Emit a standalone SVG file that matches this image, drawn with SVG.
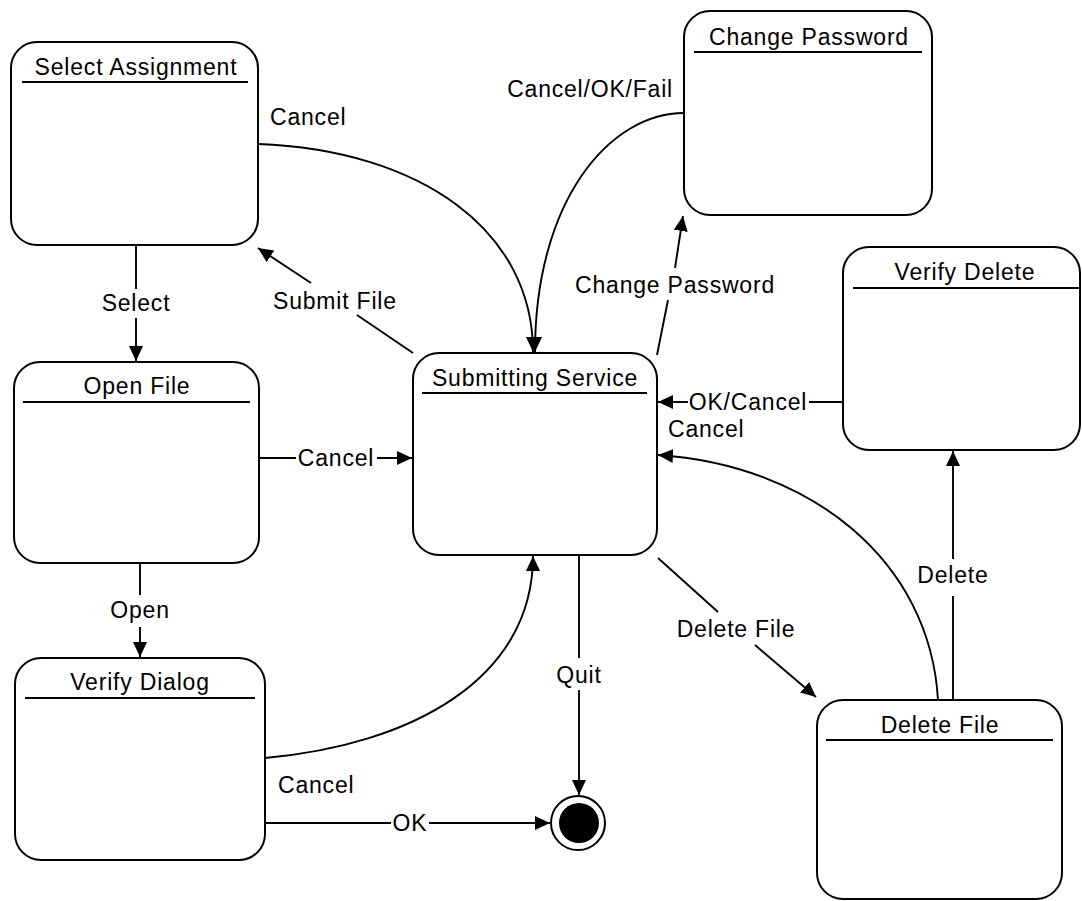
<svg xmlns="http://www.w3.org/2000/svg" width="1082" height="901" viewBox="0 0 1082 901">
  <style>
    .state { fill: #ffffff; stroke: #000000; stroke-width: 2; }
    .divider { stroke: #000000; stroke-width: 2; }
    .title { font-family: "Liberation Sans", Arial, sans-serif; font-size: 23px; letter-spacing: 0.8px; fill: #000000; text-anchor: middle; }
    .edge { fill: none; stroke: #000000; stroke-width: 1.9; }
    .arrow { marker-end: url(#head); }
    .label { font-family: "Liberation Sans", Arial, sans-serif; font-size: 23px; letter-spacing: 0.8px; fill: #000000; }
  </style>
  <defs>
    <marker id="head" markerUnits="userSpaceOnUse" markerWidth="16" markerHeight="15" refX="15" refY="7" orient="auto">
      <path d="M0,0 L15,7 L0,14 Z" fill="#000000"/>
    </marker>
  </defs>

  <rect width="1082" height="901" fill="#ffffff"/>

  <!-- transitions; straight lines are split where their label sits on them -->
  <g id="connectors">
    <!-- Select Assignment -> Open File -->
    <line class="edge" x1="136" y1="245" x2="136" y2="289"/>
    <line class="edge arrow" x1="136" y1="318" x2="136" y2="361"/>
    <text class="label" x="136" y="311" text-anchor="middle">Select</text>

    <!-- Open File -> Verify Dialog -->
    <line class="edge" x1="140" y1="563" x2="140" y2="595"/>
    <line class="edge arrow" x1="140" y1="627" x2="140" y2="657"/>
    <text class="label" x="140" y="618" text-anchor="middle">Open</text>

    <!-- Open File -> Submitting Service -->
    <line class="edge" x1="259" y1="458" x2="296" y2="458"/>
    <line class="edge arrow" x1="377" y1="458" x2="412" y2="458"/>
    <text class="label" x="336" y="466" text-anchor="middle">Cancel</text>

    <!-- Select Assignment -> Submitting Service -->
    <path class="edge arrow" d="M258,144 C420,150 533,230 533,352"/>
    <text class="label" x="270" y="125">Cancel</text>

    <!-- Submitting Service -> Select Assignment -->
    <line class="edge" x1="413" y1="353" x2="357" y2="315"/>
    <line class="edge arrow" x1="311" y1="283" x2="258" y2="248"/>
    <text class="label" x="273" y="309">Submit File</text>

    <!-- Change Password -> Submitting Service -->
    <path class="edge arrow" d="M684,113 C610,113 535,200 535,352"/>
    <text class="label" x="673" y="97" text-anchor="end">Cancel/OK/Fail</text>

    <!-- Submitting Service -> Change Password -->
    <line class="edge" x1="657" y1="355" x2="668" y2="300"/>
    <line class="edge arrow" x1="675" y1="268" x2="683" y2="216"/>
    <text class="label" x="775" y="293" text-anchor="end">Change Password</text>

    <!-- Verify Delete -> Submitting Service -->
    <line class="edge" x1="843" y1="402" x2="809" y2="402"/>
    <line class="edge arrow" x1="688" y1="402" x2="658" y2="402"/>
    <text class="label" x="748" y="410" text-anchor="middle">OK/Cancel</text>

    <!-- Delete File -> Submitting Service -->
    <path class="edge arrow" d="M938,700 C930,560 810,465 658,455"/>
    <text class="label" x="668" y="437">Cancel</text>

    <!-- Delete File -> Verify Delete -->
    <line class="edge" x1="953" y1="700" x2="953" y2="596"/>
    <line class="edge arrow" x1="953" y1="559" x2="953" y2="451"/>
    <text class="label" x="953" y="583" text-anchor="middle">Delete</text>

    <!-- Submitting Service -> Delete File -->
    <line class="edge" x1="658" y1="558" x2="718" y2="612"/>
    <line class="edge arrow" x1="755" y1="645" x2="816" y2="697"/>
    <text class="label" x="736" y="637" text-anchor="middle">Delete File</text>

    <!-- Submitting Service -> final state -->
    <line class="edge" x1="579" y1="555" x2="579" y2="658"/>
    <line class="edge arrow" x1="579" y1="690" x2="579" y2="795"/>
    <text class="label" x="579" y="683" text-anchor="middle">Quit</text>

    <!-- Verify Dialog -> Submitting Service -->
    <path class="edge arrow" d="M265,758 C410,745 533,680 533,556"/>
    <text class="label" x="278" y="793">Cancel</text>

    <!-- Verify Dialog -> final state -->
    <line class="edge" x1="265" y1="823" x2="391" y2="823"/>
    <line class="edge arrow" x1="429" y1="823" x2="550" y2="823"/>
    <text class="label" x="410" y="831" text-anchor="middle">OK</text>
  </g>

  <!-- states -->
  <g id="select-assignment">
    <rect class="state" x="11" y="42" width="247" height="203" rx="26" ry="26"/>
    <line class="divider" x1="22" y1="82" x2="248" y2="82"/>
    <text class="title" x="136" y="75">Select Assignment</text>
  </g>

  <g id="change-password">
    <rect class="state" x="684" y="11" width="248" height="204" rx="26" ry="26"/>
    <line class="divider" x1="694" y1="52" x2="922" y2="52"/>
    <text class="title" x="809" y="45">Change Password</text>
  </g>

  <g id="open-file">
    <rect class="state" x="14" y="362" width="245" height="201" rx="26" ry="26"/>
    <line class="divider" x1="23" y1="402" x2="250" y2="402"/>
    <text class="title" x="137" y="394">Open File</text>
  </g>

  <g id="submitting-service">
    <rect class="state" x="413" y="353" width="244" height="202" rx="26" ry="26"/>
    <line class="divider" x1="422" y1="393" x2="647" y2="393"/>
    <text class="title" x="535" y="386">Submitting Service</text>
  </g>

  <g id="verify-delete">
    <rect class="state" x="843" y="247" width="237" height="203" rx="26" ry="26"/>
    <line class="divider" x1="853" y1="288" x2="1080" y2="288"/>
    <text class="title" x="965" y="280">Verify Delete</text>
  </g>

  <g id="verify-dialog">
    <rect class="state" x="15" y="658" width="250" height="202" rx="26" ry="26"/>
    <line class="divider" x1="25" y1="698" x2="255" y2="698"/>
    <text class="title" x="140" y="690">Verify Dialog</text>
  </g>

  <g id="delete-file">
    <rect class="state" x="817" y="700" width="245" height="199" rx="26" ry="26"/>
    <line class="divider" x1="826" y1="740" x2="1053" y2="740"/>
    <text class="title" x="940" y="733">Delete File</text>
  </g>

  <g id="final-state">
    <circle cx="578" cy="823" r="27" fill="#ffffff" stroke="#000000" stroke-width="2"/>
    <circle cx="579" cy="823" r="20" fill="#000000"/>
  </g>
</svg>
